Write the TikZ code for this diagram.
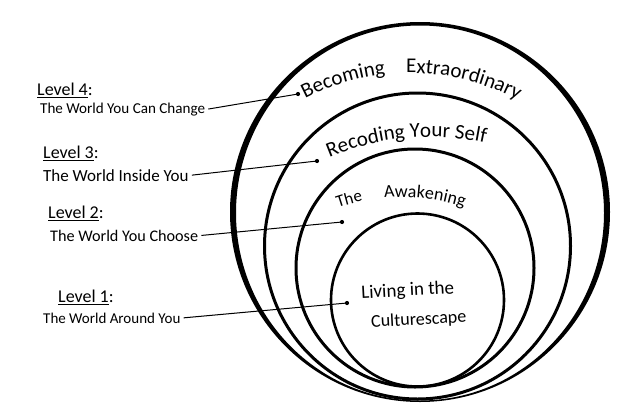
\documentclass[tikz,border=0pt]{standalone}
\usepackage{fontspec}
\newfontfamily\hand{Carlito}
\usetikzlibrary{decorations.text}
\newcommand\lvlul[1]{\setbox0\hbox{#1}\rlap{\rule[-2.8pt]{\wd0}{1.1pt}}\box0}
\begin{document}
\begin{tikzpicture}[x=1pt,y=-1pt,
  ring/.style={line width=3pt, draw=black},
  link/.style={line width=1pt, draw=black},
  dotnode/.style={circle, fill=black, inner sep=0pt, minimum size=4.2pt},
  lvl/.style={anchor=base west, inner sep=0pt, font=\hand\fontsize{18}{20}\selectfont},
  lbl/.style={anchor=base west, inner sep=3pt},
  arctext/.style={decorate, decoration={text along path, text align=center, text={#1}}},
]
\useasboundingbox (0,0) rectangle (640,418);
% rings
\fill[even odd rule] (420,212) ellipse[x radius=190, y radius=190] (420,213) ellipse[x radius=184, y radius=187.5];
\draw[ring] (417.5,246) circle[radius=153];
\draw[ring] (415,268) circle[radius=119];
\draw[ring, line width=2.6pt] (417.5,300) circle[radius=86.5];
% ring titles
\path[arctext={|\hand\fontsize{21}{24}\selectfont|Becoming}] (410,298) ++(-122:225) arc[start angle=-122, end angle=-92, radius=225];
\path[arctext={|\hand\fontsize{21}{24}\selectfont|Extraordinary}] (410,298) ++(-96.25:225) arc[start angle=-96.25, end angle=-56.25, radius=225];
\path[arctext={|\hand\fontsize{21}{24}\selectfont|Recoding Your Self}] (430,397) ++(-117.25:260) arc[start angle=-117.25, end angle=-73.25, radius=260];
\path[arctext={|\hand\fontsize{17}{20}\selectfont|The}] (402,394) ++(-113.2:197) arc[start angle=-113.2, end angle=-97.2, radius=197];
\path[arctext={|\hand\fontsize{18}{20}\selectfont|Awakening}] (402,394) ++(-97.4:197) arc[start angle=-97.4, end angle=-69.4, radius=197];
\node[anchor=base, inner sep=0pt, rotate=3, font=\hand\fontsize{19}{21}\selectfont] (liv) at (408,296) {Living in the};
\node[anchor=base, inner sep=0pt, rotate=3, font=\hand\fontsize{18}{21}\selectfont] (cul) at (419,325) {Culturescape};
% level labels
\node[lvl] (v4) at (37,95) {\lvlul{Level 4}:};
\node[lbl, font=\hand\fontsize{15.1}{17}\selectfont] (t4) at (37,113) {The World You Can Change};
\node[lvl] (v3) at (43,158) {\lvlul{Level 3}:};
\node[lbl, font=\hand\fontsize{17}{19}\selectfont] (t3) at (40,181) {The World Inside You};
\node[lvl] (v2) at (48,218) {\lvlul{Level 2}:};
\node[lbl, font=\hand\fontsize{16.2}{18}\selectfont] (t2) at (47,241) {The World You Choose};
\node[lvl] (v1) at (58,302) {\lvlul{Level 1}:};
\node[lbl, font=\hand\fontsize{15}{17}\selectfont] (t1) at (40,323) {The World Around You};
% dots and connectors
\node[dotnode] (d4) at (298,94) {};
\node[dotnode] (d3) at (317,161) {};
\node[dotnode] (d2) at (342,222) {};
\node[dotnode] (d1) at (347,303) {};
\draw[link] (t4.east) -- (d4.center);
\draw[link] (t3.east) -- (d3.center);
\draw[link] (t2.east) -- (d2.center);
\draw[link] (t1.east) -- (d1.center);
\end{tikzpicture}
\end{document}
